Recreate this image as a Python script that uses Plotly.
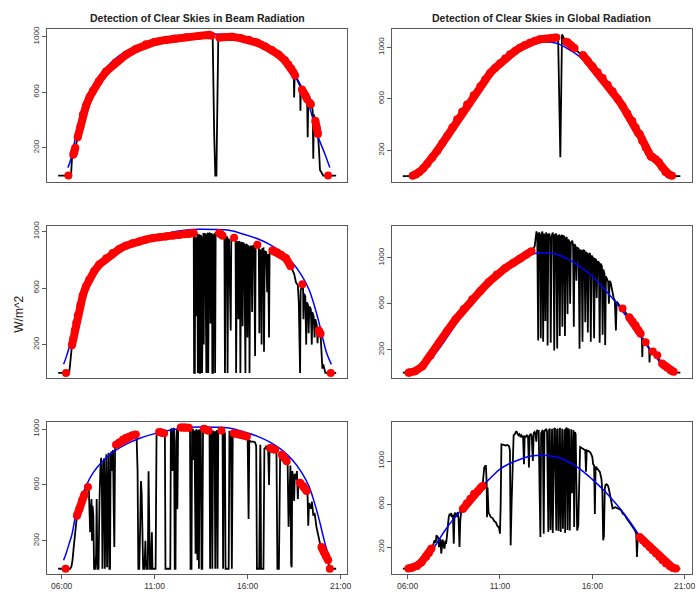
import plotly.graph_objects as go

# ---------------- DATA (hours of day, W/m^2) ----------------
tick_vals_x = [6, 11, 16, 21]
tick_text_x = ["06:00", "11:00", "16:00", "21:00"]
tick_vals_y = [200, 600, 1000]

titles = ["Detection of Clear Skies in Beam Radiation",
          "Detection of Clear Skies in Global Radiation"]
y_title = "W/m^2"

# measured beam, day 1 (top-left)
beam_day1 = [(5.81,0),(6.36,0),(6.50,0),(6.55,120),(6.62,150),(6.68,170),(6.73,200),(6.80,240),(6.86,276),
    (7.00,350),(7.14,440),(7.30,500),(7.50,565),(7.68,610),(8.00,680),(8.39,750),(8.90,815),(9.46,870),
    (10.00,912),(10.53,945),(11.00,962),(11.60,977),(12.10,988),(12.67,997),(13.38,1006),(13.91,1013),
    (14.05,1008),(14.12,990),(14.20,300),(14.26,0),(14.32,0),(14.38,600),(14.42,990),(14.47,995),(14.80,998),
    (15.16,1000),(15.60,990),(16.05,979),(16.50,958),(16.94,930),(17.30,905),(17.66,872),(18.00,830),
    (18.19,800),(18.35,770),(18.48,740),(18.50,562),(18.53,735),(18.55,721),(18.65,695),(18.75,665),
    (18.82,645),(18.84,467),(18.86,640),(18.92,620),(19.00,598),(19.12,575),(19.20,550),(19.23,276),
    (19.26,540),(19.33,525),(19.40,514),(19.50,470),(19.53,121),(19.56,440),(19.64,395),(19.71,345),
    (19.78,300),(19.84,180),(19.89,40),(19.98,20),(20.06,0),(20.33,0),(20.76,0)]
beam_day1_clear = [(6.35,6.37),(6.60,6.75),(6.84,14.08),(14.44,18.49),(18.54,18.56),(18.90,19.21),
    (19.30,19.42),(19.62,19.80),(20.32,20.34)]
beam_cs_day1 = [(6.33,57),(6.45,100),(6.55,150),(6.70,250),(6.90,370),(7.20,500),(7.60,620),(8.10,730),
    (8.70,820),(9.40,890),(10.20,940),(11.00,975),(11.80,1000),(12.60,1014),(13.40,1021),(14.20,1020),
    (15.00,1010),(15.80,988),(16.50,958),(17.20,912),(17.80,855),(18.30,780),(18.73,681),(19.08,586),
    (19.44,443),(19.80,276),(20.15,157),(20.42,57)]

# measured global, day 1 (top-right)
global_day1 = [(5.74,0),(6.20,0),(6.27,2),(6.45,12),(6.63,31),(6.85,60),(7.07,95),(7.34,145),(7.61,197),
    (7.88,255),(8.15,313),(8.42,377),(8.68,441),(8.95,500),(9.22,556),(9.58,628),(9.94,697),(10.20,750),
    (10.47,800),(10.74,840),(11.01,877),(11.28,913),(11.55,946),(11.82,972),(12.09,997),(12.35,1018),
    (12.62,1036),(12.89,1050),(13.16,1062),(13.43,1066),(13.70,1069),(13.90,1073),(14.06,1077),
    (14.15,1075),(14.27,146),(14.36,1100),(14.45,1075),(14.59,1044),(14.68,1038),(14.86,1015),(15.04,992),
    (15.20,975),(15.31,954),(15.49,941),(15.75,895),(16.02,851),(16.29,806),(16.56,762),(16.83,710),
    (17.10,659),(17.37,600),(17.64,544),(17.90,486),(18.17,428),(18.35,378),(18.50,330),(18.53,274),
    (18.56,326),(18.70,275),(18.89,223),(19.05,185),(19.18,150),(19.21,121),(19.25,150),(19.43,130),
    (19.60,108),(19.79,69),(19.96,31),(20.15,12),(20.32,3),(20.50,0),(20.77,0)]
global_day1_clear = [(6.25,14.10),(14.57,15.06),(15.45,18.51),(18.55,19.19),(19.24,20.40)]
global_cs = [(6.05,0),(6.50,15),(7.00,75),(7.50,165),(8.00,275),(8.50,395),(9.00,510),(9.50,615),
    (10.00,715),(10.50,800),(11.00,875),(11.50,940),(12.00,990),(12.50,1025),(13.00,1040),(13.40,1044),
    (13.80,1040),(14.20,1025),(14.60,995),(15.00,960),(15.50,905),(16.00,840),(16.50,755),(17.00,665),
    (17.50,565),(18.00,455),(18.50,340),(19.00,225),(19.50,125),(19.90,45),(20.30,5)]

# measured beam, day 2 (middle-left)
beam_day2 = [(5.81,0),(6.23,0),(6.40,0),(6.45,60),(6.50,150),(6.55,195),(6.62,242),(6.70,300),(6.78,355),
    (6.86,406),(7.00,480),(7.13,545),(7.30,610),(7.48,661),(7.75,720),(8.02,766),(8.40,810),(8.74,848),
    (9.10,876),(9.45,899),(9.80,916),(10.17,930),(10.50,942),(10.88,953),(11.25,960),(11.60,965),
    (12.00,971),(12.31,976),(12.60,980),(12.85,983),(13.05,988),(13.10,990),(13.12,0),(13.16,0),
    (13.18,960),(13.22,940),(13.24,400),(13.26,900),(13.30,985),(13.32,0),(13.36,950),(13.40,980),
    (13.42,0),(13.45,0),(13.47,975),(13.52,960),(13.55,0),(13.58,970),(13.62,990),(13.64,200),(13.66,985),
    (13.72,980),(13.74,0),(13.78,0),(13.80,970),(13.86,990),(13.88,0),(13.92,985),(13.98,990),(14.00,350),
    (14.03,980),(14.08,985),(14.10,0),(14.14,0),(14.16,970),(14.22,985),(14.25,0),(14.28,990),(14.38,992),
    (14.47,990),(14.56,980),(14.65,969),(14.75,960),(14.78,0),(14.82,940),(14.90,965),(14.92,0),
    (14.96,950),(15.00,940),(15.09,300),(15.12,950),(15.20,958),(15.27,955),(15.35,940),(15.38,0),
    (15.42,930),(15.47,920),(15.50,380),(15.53,930),(15.58,925),(15.61,0),(15.65,910),(15.70,925),
    (15.73,330),(15.76,920),(15.82,910),(15.85,0),(15.88,0),(15.90,905),(15.96,910),(15.99,250),
    (16.02,900),(16.08,890),(16.10,0),(16.14,880),(16.20,900),(16.24,430),(16.27,895),(16.35,900),
    (16.40,120),(16.43,890),(16.52,906),(16.60,880),(16.63,280),(16.66,870),(16.72,860),(16.75,200),
    (16.78,875),(16.85,880),(16.88,150),(16.92,860),(17.00,855),(17.05,570),(17.10,840),(17.15,250),
    (17.18,850),(17.25,860),(17.33,866),(17.45,858),(17.60,852),(17.80,835),(18.05,813),(18.31,755),
    (18.50,700),(18.60,640),(18.70,620),(18.75,500),(18.78,0),(18.82,0),(18.85,580),(18.94,627),
    (18.98,600),(19.00,380),(19.03,560),(19.10,540),(19.15,200),(19.18,500),(19.25,480),(19.28,280),
    (19.32,470),(19.40,450),(19.45,200),(19.48,430),(19.55,400),(19.60,250),(19.64,380),(19.72,340),
    (19.76,210),(19.80,320),(19.83,300),(19.92,277),(19.98,150),(20.02,30),(20.07,60),(20.12,35),
    (20.18,0),(20.47,0),(20.76,0)]
beam_day2_clear = [(6.22,6.24),(6.53,13.11),(14.45,14.70),(15.25,15.29),(16.50,16.54),(17.30,18.33),
    (18.92,18.96),(19.82,19.94),(20.46,20.48)]
beam_cs = [(6.10,61),(6.25,115),(6.40,180),(6.55,245),(6.75,380),(7.00,480),(7.30,590),(7.70,690),
    (8.20,770),(8.80,840),(9.50,895),(10.20,935),(11.00,968),(11.80,992),(12.60,1008),(13.40,1015),
    (14.20,1014),(15.00,1008),(15.80,980),(16.50,950),(17.20,907),(17.80,855),(18.40,780),(18.90,690),
    (19.30,590),(19.60,470),(19.85,350),(20.05,240),(20.25,140),(20.50,60)]

# measured global, day 2 (middle-right)
global_day2 = [(5.74,0),(6.05,0),(6.09,1),(6.40,12),(6.80,55),(7.25,150),(7.70,260),(8.15,365),(8.60,465),
    (9.04,555),(9.50,640),(9.94,712),(10.40,790),(10.83,856),(11.28,910),(11.73,957),(12.10,995),
    (12.44,1029),(12.71,1058),(12.80,1080),(12.88,1100),(12.94,1180),(12.98,1230),(13.02,1200),
    (13.05,500),(13.07,280),(13.10,1210),(13.14,1220),(13.18,1150),(13.21,300),(13.25,1200),(13.30,1230),
    (13.34,270),(13.38,1210),(13.42,1190),(13.46,450),(13.50,1220),(13.55,1200),(13.58,237),(13.62,1200),
    (13.68,1210),(13.72,1150),(13.75,260),(13.80,1190),(13.86,1220),(13.90,1180),(13.94,194),(13.98,1200),
    (14.05,1210),(14.10,210),(14.14,1190),(14.20,1195),(14.24,320),(14.28,1180),(14.34,1200),(14.38,400),
    (14.42,1190),(14.48,1185),(14.52,320),(14.56,1170),(14.62,1180),(14.66,510),(14.70,1160),(14.76,1140),
    (14.80,600),(14.84,1130),(14.92,1150),(14.96,1100),(15.00,400),(15.04,1120),(15.10,1100),(15.14,800),
    (15.18,1090),(15.26,1080),(15.31,209),(15.35,1070),(15.42,1060),(15.47,270),(15.51,1070),(15.58,1060),
    (15.62,440),(15.66,1050),(15.72,1040),(15.76,350),(15.80,1030),(15.88,1040),(15.92,270),(15.96,1020),
    (16.04,1000),(16.10,300),(16.14,990),(16.20,985),(16.24,650),(16.28,970),(16.36,960),(16.40,260),
    (16.44,950),(16.52,930),(16.56,330),(16.60,900),(16.66,860),(16.70,240),(16.74,840),(16.80,820),
    (16.86,790),(16.90,600),(16.94,800),(17.00,780),(17.10,680),(17.16,650),(17.22,630),(17.28,367),
    (17.32,620),(17.40,600),(17.50,580),(17.64,560),(17.82,520),(18.00,482),(18.18,445),(18.35,410),
    (18.50,370),(18.62,338),(18.68,320),(18.71,137),(18.74,300),(18.89,266),(19.00,230),(19.08,215),
    (19.10,88),(19.13,200),(19.28,185),(19.40,170),(19.52,151),(19.65,110),(19.78,79),(19.90,62),
    (20.05,45),(20.25,20),(20.41,7),(20.55,0),(20.77,0)]
global_day2_clear = [(6.05,12.72),(17.62,17.66),(17.95,18.65),(18.87,18.91),(19.26,19.30),(19.50,19.54),
    (19.75,20.45)]

# measured beam, day 3 (bottom-left)
beam_day3 = [(5.81,0),(6.21,0),(6.45,0),(6.52,15),(6.58,60),(6.65,160),(6.72,260),(6.82,380),(6.95,430),
    (7.10,490),(7.23,534),(7.32,560),(7.41,586),(7.46,560),(7.50,300),(7.53,262),(7.57,420),(7.60,500),
    (7.63,200),(7.66,450),(7.70,380),(7.74,0),(7.80,0),(7.85,100),(7.88,500),(7.92,0),(7.98,0),(8.00,300),
    (8.03,480),(8.08,720),(8.12,794),(8.16,600),(8.19,0),(8.24,760),(8.28,790),(8.32,0),(8.36,780),
    (8.40,820),(8.44,10),(8.48,700),(8.52,830),(8.56,0),(8.60,0),(8.63,810),(8.68,840),(8.72,700),
    (8.76,850),(8.80,400),(8.83,155),(8.87,860),(8.92,888),(9.10,905),(9.30,925),(9.46,938),(9.65,948),
    (9.80,955),(9.99,962),(10.03,930),(10.08,700),(10.12,0),(10.17,0),(10.22,300),(10.26,628),(10.30,540),
    (10.34,200),(10.38,0),(10.45,0),(10.50,200),(10.53,60),(10.57,0),(10.63,0),(10.67,699),(10.71,300),
    (10.75,0),(10.80,0),(10.85,262),(10.88,0),(11.05,0),(11.10,960),(11.24,980),(11.40,975),(11.51,970),
    (11.55,940),(11.58,0),(11.84,0),(11.87,990),(11.92,1005),(11.96,700),(12.00,1000),(12.04,1007),
    (12.08,0),(12.12,0),(12.15,900),(12.19,1000),(12.22,427),(12.26,990),(12.32,1005),(12.40,1012),
    (12.60,1012),(12.84,1010),(12.90,1000),(12.93,0),(12.98,0),(13.01,980),(13.06,1000),(13.10,780),
    (13.14,990),(13.20,107),(13.24,1000),(13.30,60),(13.33,995),(13.38,0),(13.42,990),(13.48,1000),
    (13.52,0),(13.56,0),(13.60,995),(13.65,1002),(13.78,995),(13.90,988),(13.95,990),(13.98,0),(14.02,980),
    (14.07,985),(14.10,0),(14.14,990),(14.18,850),(14.22,985),(14.26,0),(14.30,980),(14.35,990),(14.38,0),
    (14.42,985),(14.50,990),(14.59,990),(14.65,985),(14.68,0),(14.72,970),(14.78,975),(14.81,0),(14.98,0),
    (15.02,980),(15.10,975),(15.15,0),(15.20,960),(15.25,970),(15.50,965),(15.70,960),(15.96,948),
    (16.00,930),(16.05,356),(16.09,920),(16.15,912),(16.23,912),(16.30,910),(16.40,905),(16.46,880),
    (16.50,0),(16.62,0),(16.66,600),(16.68,888),(16.70,700),(16.72,0),(16.85,0),(16.90,860),(16.95,865),
    (17.00,880),(17.05,850),(17.10,870),(17.15,600),(17.18,860),(17.21,864),(17.35,858),(17.48,852),
    (17.55,840),(17.60,0),(17.68,0),(17.72,780),(17.75,817),(17.84,817),(17.97,795),(18.10,770),
    (18.15,760),(18.20,300),(18.25,486),(18.30,740),(18.34,30),(18.37,10),(18.40,700),(18.46,650),
    (18.50,486),(18.54,680),(18.60,640),(18.65,700),(18.70,500),(18.73,620),(18.82,616),(19.00,590),
    (19.17,557),(19.22,540),(19.26,309),(19.30,470),(19.40,430),(19.46,480),(19.53,380),(19.60,400),
    (19.70,300),(19.80,230),(19.90,175),(19.97,155),(20.10,120),(20.20,95),(20.33,60),(20.38,15),
    (20.42,0),(20.76,0)]
beam_day3_clear = [(6.20,6.22),(6.80,7.24),(7.40,7.42),(8.90,10.00),(11.22,11.53),(12.38,12.86),
    (13.63,13.92),(14.57,14.61),(15.23,15.98),(17.19,17.50),(17.82,18.12),(18.80,19.19),(19.95,20.35),
    (20.41,20.43)]

# measured global, day 3 (bottom-right)
global_day3 = [(5.74,0),(6.00,0),(6.04,1),(6.25,8),(6.50,25),(6.75,60),(7.00,110),(7.15,145),(7.29,186),
    (7.38,215),(7.43,250),(7.47,263),(7.52,240),(7.56,309),(7.60,300),(7.65,290),(7.70,200),(7.74,250),
    (7.78,275),(7.82,140),(7.86,240),(7.90,270),(7.95,210),(8.00,186),(8.04,260),(8.08,230),(8.13,300),
    (8.18,417),(8.22,470),(8.27,509),(8.31,500),(8.36,515),(8.40,480),(8.45,500),(8.50,232),(8.54,505),
    (8.58,520),(8.63,480),(8.68,510),(8.72,525),(8.76,460),(8.81,200),(8.85,440),(8.90,530),(8.99,554),
    (9.20,605),(9.40,650),(9.60,695),(9.80,720),(9.95,750),(10.06,769),(10.10,850),(10.15,940),
    (10.20,955),(10.24,955),(10.28,800),(10.30,478),(10.33,754),(10.38,520),(10.45,500),(10.51,478),
    (10.60,470),(10.70,440),(10.78,430),(10.85,400),(10.95,380),(11.00,325),(11.04,600),(11.08,1155),
    (11.20,1150),(11.31,1145),(11.40,1150),(11.49,1140),(11.54,1100),(11.58,216),(11.63,600),(11.68,1000),
    (11.74,1240),(11.80,1250),(11.89,1278),(11.95,1255),(12.00,1240),(12.05,1250),(12.10,1230),
    (12.15,1240),(12.20,1220),(12.25,1235),(12.30,970),(12.34,1230),(12.40,1225),(12.46,1240),
    (12.52,1230),(12.57,940),(12.61,1240),(12.67,1250),(12.72,1235),(12.78,1000),(12.83,1260),
    (12.88,1270),(12.93,1250),(12.97,1180),(13.01,1290),(13.05,1280),(13.10,1280),(13.15,700),
    (13.19,294),(13.23,1260),(13.28,1285),(13.32,1290),(13.37,325),(13.41,1270),(13.46,1290),(13.50,1295),
    (13.55,1280),(13.58,800),(13.62,340),(13.66,1290),(13.70,1300),(13.74,360),(13.78,1280),(13.82,1300),
    (13.86,330),(13.90,1270),(13.94,1300),(13.98,1305),(14.02,400),(14.05,355),(14.09,1290),(14.13,1300),
    (14.17,350),(14.21,1295),(14.25,1310),(14.29,340),(14.33,1280),(14.37,1300),(14.41,370),(14.45,1290),
    (14.49,1295),(14.53,330),(14.57,1300),(14.62,1309),(14.66,360),(14.70,1300),(14.74,1290),(14.78,355),
    (14.82,1280),(14.86,1295),(14.90,700),(14.94,1285),(14.98,1290),(15.02,386),(15.06,1270),(15.10,1250),
    (15.14,380),(15.18,355),(15.24,400),(15.30,1125),(15.34,1130),(15.45,1120),(15.55,1110),(15.62,1100),
    (15.66,900),(15.70,1100),(15.80,1094),(15.90,1080),(16.00,1040),(16.05,970),(16.10,960),(16.14,509),
    (16.18,950),(16.23,940),(16.30,920),(16.41,900),(16.50,830),(16.55,700),(16.59,263),(16.63,300),
    (16.68,750),(16.72,780),(16.77,786),(16.85,770),(16.90,740),(16.95,700),(17.04,601),(17.10,560),
    (17.25,571),(17.40,555),(17.55,545),(17.66,509),(17.75,500),(17.85,470),(17.93,450),(18.00,440),
    (18.10,410),(18.20,386),(18.30,360),(18.38,325),(18.42,109),(18.47,320),(18.56,294),(18.75,262),
    (18.92,232),(19.10,200),(19.27,170),(19.45,140),(19.63,109),(19.80,78),(19.99,48),(20.20,22),
    (20.35,8),(20.53,0),(20.77,0)]
global_day3_clear = [(6.02,7.30),(8.97,10.07),(18.54,20.55)]
global_cs_day3 = [(6.00,0),(6.50,20),(7.00,95),(7.50,215),(8.00,350),(8.50,465),(9.00,565),(9.50,680),
    (10.00,765),(10.50,845),(11.00,925),(11.50,975),(12.00,1010),(12.50,1040),(13.00,1052),(13.30,1055),
    (13.60,1050),(14.00,1040),(14.50,1010),(15.00,965),(15.50,905),(16.00,830),(16.50,750),(17.00,660),
    (17.50,560),(18.00,445),(18.50,320),(19.00,210),(19.50,120),(20.00,45),(20.40,5)]

# ---------------- LAYOUT (pixels) ----------------
W, H = 700, 595
col_px = [(47.3, 349.3), (394.0, 695.5)]
row_px = [(24.0, 178.0), (222.7, 376.0), (420.7, 574.0)]
x_ranges = [[5.21, 21.36], [5.14, 21.375]]

panels = [
    (beam_day1, beam_cs_day1, beam_day1_clear, 0, 0, [-43, 1057]),
    (global_day1, global_cs, global_day1_clear, 0, 1, [-42, 1144]),
    (beam_day2, beam_cs, beam_day2_clear, 1, 0, [-35, 1040]),
    (global_day2, global_cs, global_day2_clear, 1, 1, [-45, 1279]),
    (beam_day3, beam_cs, beam_day3_clear, 2, 0, [-39, 1050]),
    (global_day3, global_cs_day3, global_day3_clear, 2, 1, [-52, 1362]),
]


def split(pairs):
    return [p[0] for p in pairs], [p[1] for p in pairs]


def clear_points(pairs, intervals):
    xs, ys = [], []
    for a, b in intervals:
        for t, v in pairs:
            if a <= t <= b:
                xs.append(t)
                ys.append(v)
        xs.append(None)
        ys.append(None)
    return xs, ys


FONT = "Liberation Sans"
FRAME = "#5a5a5a"

fig = go.Figure()
layout = dict(width=W, height=H, margin=dict(l=0, r=0, t=0, b=0),
              paper_bgcolor="white", plot_bgcolor="white", showlegend=False,
              font=dict(family=FONT, size=8, color="#333333"))

for k, (meas, cs, clear, row, col, yr) in enumerate(panels, start=1):
    xa = "x" if k == 1 else f"x{k}"
    ya = "y" if k == 1 else f"y{k}"
    mt, mv = split(meas)
    ct, cv = split(cs)
    rt, rv = clear_points(meas, clear)
    fig.add_trace(go.Scatter(x=mt, y=mv, mode="lines", line=dict(color="black", width=1.8),
                             xaxis=xa, yaxis=ya, hoverinfo="skip"))
    fig.add_trace(go.Scatter(x=ct, y=cv, mode="lines", line=dict(color="#0000ff", width=1.5, shape="spline"),
                             xaxis=xa, yaxis=ya, hoverinfo="skip"))
    fig.add_trace(go.Scatter(x=rt, y=rv, mode="lines+markers", line=dict(color="#ff0000", width=8),
                             marker=dict(color="#ff0000", size=8), xaxis=xa, yaxis=ya,
                             hoverinfo="skip"))
    x0, x1 = col_px[col]
    y0, y1 = row_px[row]
    bottom = (row == 2)
    layout["xaxis" if k == 1 else f"xaxis{k}"] = dict(
        domain=[x0 / W, x1 / W], anchor=ya, range=x_ranges[col],
        showline=True, linecolor=FRAME, linewidth=1, mirror=True,
        showgrid=False, zeroline=False,
        tickmode="array", tickvals=tick_vals_x, ticktext=tick_text_x,
        showticklabels=bottom, ticks="outside" if bottom else "", ticklen=4, tickcolor=FRAME,
        tickfont=dict(family=FONT, size=8.5, color="#333333"))
    layout["yaxis" if k == 1 else f"yaxis{k}"] = dict(
        domain=[1 - y1 / H, 1 - y0 / H], anchor=xa, range=yr,
        showline=True, linecolor=FRAME, linewidth=1, mirror=True,
        showgrid=False, zeroline=False,
        tickmode="array", tickvals=tick_vals_y, ticks="outside", ticklen=4, tickcolor=FRAME,
        tickangle=-90, tickfont=dict(family=FONT, size=8, color="#333333"))

annotations = []
for col, text in enumerate(titles):
    x0, x1 = col_px[col]
    annotations.append(dict(text=f"<b>{text}</b>", x=(x0 + x1) / 2 / W, y=1 - 13.5 / H,
                            xref="paper", yref="paper", xanchor="center", yanchor="middle",
                            showarrow=False, font=dict(family=FONT, size=10.5, color="#222222")))
annotations.append(dict(text=y_title, x=19.5 / W, y=1 - 312 / H, xref="paper", yref="paper",
                        xanchor="center", yanchor="middle", textangle=-90, showarrow=False,
                        font=dict(family=FONT, size=12, color="#222222")))
layout["annotations"] = annotations
fig.update_layout(**layout)

fig.write_html("out.html", config={"displayModeBar": False},
               post_script="document.body.style.margin='0';document.body.style.padding='0';")
